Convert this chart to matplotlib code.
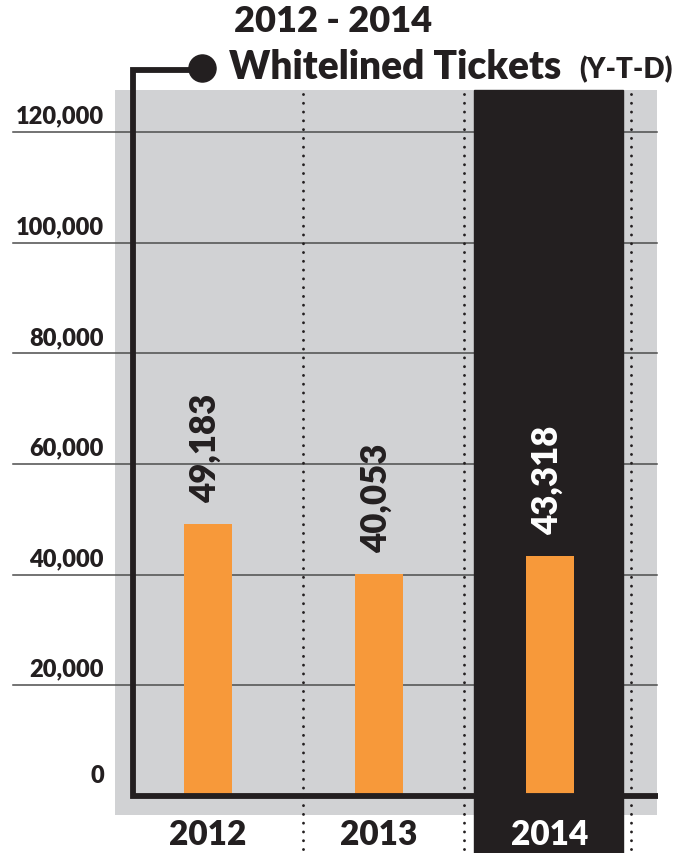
import numpy as np
import matplotlib.pyplot as plt

# Ticket counts by year
years = ['2012', '2013', '2014']
tickets = [49183, 40053, 43318]
value_labels = ['49,183', '40,053', '43,318']
y_ticks = [0, 20000, 40000, 60000, 80000, 100000, 120000]
y_tick_labels = ['0', '20,000', '40,000', '60,000', '80,000', '100,000', '120,000']

GRAY = '#d1d2d4'
ORANGE = '#f7993a'
INK = '#231f20'
WEIGHT = 'heavy'

plt.rcParams['font.family'] = ['Lato', 'DejaVu Sans']

W, H = 677, 854
fig = plt.figure(figsize=(W / 100, H / 100), dpi=100)

# plot panel in pixels: left, top, right, bottom
L, T, R, B = 115, 91, 657, 816
ax = fig.add_axes([L / W, 1 - B / H, (R - L) / W, (B - T) / H])
ax.set_facecolor(GRAY)
for s in ax.spines.values():
    s.set_visible(False)

x = np.arange(len(years))
ax.set_xlim(-0.544, 2.626)
ax.set_ylim(-3430, 127600)

def px_x(p):
    return (p - L) / (R - L)

def px_y(p):
    return (B - p) / (B - T)

# gridlines running out under the labels
for v in y_ticks[1:]:
    ax.axhline(v, xmin=px_x(13), xmax=1, color='#4d4d4d', lw=1.1, zorder=1, clip_on=False)

# dark band behind the current year
band = plt.Rectangle((x[2] - 0.445, px_y(854)), 0.87, 1 - px_y(854),
                     transform=ax.get_xaxis_transform(), color=INK, zorder=2, clip_on=False)
ax.add_patch(band)

# dotted separators
for xs in [0.556, 1.497, 2.474]:
    ax.plot([xs, xs], [px_y(95), px_y(854)], transform=ax.get_xaxis_transform(),
            color=INK, lw=2.1, dashes=(0.01, 3.0), dash_capstyle='round',
            zorder=3, clip_on=False)

ax.bar(x, tickets, width=0.28, color=ORANGE, zorder=4)

for xi, v, lab in zip(x, tickets, value_labels):
    ax.annotate(lab, (xi, v), xytext=(-2, 16), textcoords='offset points',
                rotation=90, ha='center', va='bottom', fontsize=25, fontweight=WEIGHT,
                color='white' if xi == 2 else INK, zorder=5)

# axis frame with the pointer to the title
y0 = px_y(797)
ax.plot([px_x(202), px_x(133), px_x(133), px_x(658)], [px_y(71), px_y(71), y0, y0],
        transform=ax.transAxes, color=INK, lw=4.2, solid_joinstyle='miter',
        solid_capstyle='butt', zorder=6, clip_on=False)
ax.plot([px_x(202)], [px_y(69)], 'o', ms=19.5, color=INK, transform=ax.transAxes,
        zorder=6, clip_on=False)

# y labels sitting on their gridlines
for v, lab in zip(y_ticks, y_tick_labels):
    ax.annotate(lab, (px_x(104), v), xycoords=ax.get_yaxis_transform(),
                xytext=(0, 4 if v else 7), textcoords='offset points',
                ha='right', va='bottom', fontsize=17, fontweight=WEIGHT, color=INK,
                annotation_clip=False)

# year labels under the panel
ax.set_xticks([])
ax.set_yticks([])
for xi, yr in zip(x, years):
    ax.text(xi, px_y(835), yr, transform=ax.get_xaxis_transform(), ha='center',
            va='center', fontsize=24, fontweight=WEIGHT,
            color='white' if xi == 2 else INK, zorder=7, clip_on=False)

fig.text(333 / W, 1 - 21 / H, '2012 - 2014', ha='center', va='center',
         fontsize=26, fontweight=WEIGHT, color=INK)
fig.text(229 / W, 1 - 79 / H, 'Whitelined Tickets', ha='left', va='baseline',
         fontsize=28, fontweight=WEIGHT, color=INK)
fig.text(673 / W, 1 - 78 / H, '(Y-T-D)', ha='right', va='baseline',
         fontsize=20, fontweight=WEIGHT, color=INK)

fig.savefig('out.png', dpi=100)
